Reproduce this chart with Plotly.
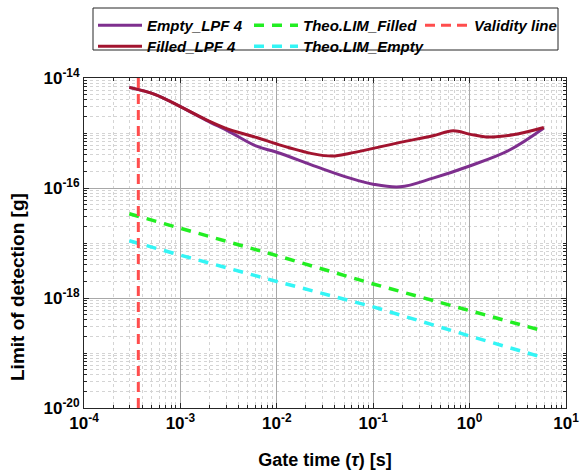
import plotly.graph_objects as go

# ---- data ----
tau_empty = [2.95e-4, 5.5e-4, 1e-3, 1.86e-3, 3.24e-3, 6.17e-3, 1e-2, 2.57e-2, 5.75e-2,
             0.1, 0.19, 0.417, 1.0, 2.6, 5.89]
lod_empty = [6.76e-15, 5.0e-15, 3.02e-15, 1.7e-15, 1.05e-15, 5.75e-16, 4.47e-16, 2.45e-16,
             1.51e-16, 1.17e-16, 1.05e-16, 1.51e-16, 2.51e-16, 4.9e-16, 1.23e-15]

tau_filled = [2.95e-4, 5.5e-4, 1e-3, 1.86e-3, 3.24e-3, 6.17e-3, 1e-2, 2.4e-2, 3.8e-2,
              5.75e-2, 0.1, 0.19, 0.417, 0.676, 1.0, 1.48, 2.82, 5.89]
lod_filled = [6.76e-15, 5.0e-15, 3.02e-15, 1.74e-15, 1.15e-15, 8.3e-16, 6.3e-16, 4.17e-16,
              3.8e-16, 4.27e-16, 5.25e-16, 6.76e-16, 8.9e-16, 1.1e-15, 9.55e-16, 8.5e-16,
              9.3e-16, 1.26e-15]

tau_theo = [2.95e-4, 1e-3, 1e-2, 1e-1, 1.0, 5.89]
lod_theo_filled = [3.4e-17, 1.85e-17, 5.9e-18, 1.8e-18, 6.0e-19, 2.5e-19]
lod_theo_empty = [1.1e-17, 6.0e-18, 2.0e-18, 6.9e-19, 2.04e-19, 8.2e-20]

validity_tau = [3.66e-4, 3.66e-4]
validity_lod = [1e-20, 1e-14]

x_tickvals = [1e-4, 1e-3, 1e-2, 1e-1, 1e0, 1e1]
x_ticktext = ["10<sup>-4</sup>", "10<sup>-3</sup>", "10<sup>-2</sup>", "10<sup>-1</sup>",
              "10<sup>0</sup>", "10<sup>1</sup>"]
y_tickvals = [1e-20, 1e-18, 1e-16, 1e-14]
y_ticktext = ["10<sup>-20</sup>", "10<sup>-18</sup>", "10<sup>-16</sup>", "10<sup>-14</sup>"]

FONT = "Liberation Sans, Arial, sans-serif"
W, H = 581, 474
L, R, T, B = 84, 15, 78, 66
PW = W - L - R
PH = H - T - B

fig = go.Figure()
fig.add_trace(go.Scatter(x=tau_empty, y=lod_empty, mode="lines", name="Empty_LPF 4",
                         line=dict(color="#7E2F8E", width=3, shape="spline"), legend="legend"))
fig.add_trace(go.Scatter(x=tau_filled, y=lod_filled, mode="lines", name="Filled_LPF 4",
                         line=dict(color="#A2142F", width=3, shape="spline"), legend="legend2"))
fig.add_trace(go.Scatter(x=tau_theo, y=lod_theo_filled, mode="lines", name="Theo.LIM_Filled",
                         line=dict(color="#22EE22", width=3.5, dash="10px,8px"), legend="legend3"))
fig.add_trace(go.Scatter(x=tau_theo, y=lod_theo_empty, mode="lines", name="Theo.LIM_Empty",
                         line=dict(color="#33F5F5", width=3.5, dash="10px,8px"), legend="legend4"))
fig.add_trace(go.Scatter(x=validity_tau, y=validity_lod, mode="lines", name="Validity line",
                         line=dict(color="#FF4D4D", width=3, dash="10px,6px"), legend="legend5"))

legend_common = dict(orientation="v", yanchor="top", xanchor="left",
                     xref="paper", yref="container",
                     bgcolor="rgba(0,0,0,0)", borderwidth=0, itemwidth=44,
                     font=dict(family=FONT, size=15, color="black", weight="bold", style="italic"))

ROW1 = 1 - 9 / H
ROW2 = 1 - 30 / H

axis_common = dict(type="log", showline=True, linecolor="#262626", linewidth=1, mirror="ticks",
                   ticks="inside", ticklen=5, tickcolor="#262626", automargin=False,
                   showgrid=True, gridcolor="#a8a8a8", gridwidth=1,
                   tickfont=dict(family=FONT, size=17, color="black", weight="bold"),
                   zeroline=False,
                   minor=dict(ticks="inside", ticklen=3, tickcolor="#262626", showgrid=True,
                              gridcolor="#d4d4d4", griddash="dot", gridwidth=1, dtick="D1"))

fig.update_layout(
    width=W, height=H,
    margin=dict(l=L, r=R, t=T, b=B),
    paper_bgcolor="white", plot_bgcolor="white",
    font=dict(family=FONT, color="black"),
    showlegend=True,
    legend=dict(legend_common, x=(93 - L) / PW, y=ROW1),
    legend2=dict(legend_common, x=(93 - L) / PW, y=ROW2),
    legend3=dict(legend_common, x=(249 - L) / PW, y=ROW1),
    legend4=dict(legend_common, x=(249 - L) / PW, y=ROW2),
    legend5=dict(legend_common, x=(420 - L) / PW, y=ROW1),
    xaxis=dict(axis_common, range=[-4, 1], tickvals=x_tickvals, ticktext=x_ticktext,
               title=dict(text="Gate time (<i>τ</i>) [s]", standoff=20,
                          font=dict(family=FONT, size=18, color="black", weight="bold"))),
    yaxis=dict(axis_common, range=[-20, -14], tickvals=y_tickvals, ticktext=y_ticktext),
    annotations=[dict(text="Limit of detection [g]", textangle=-90, showarrow=False,
                      xref="paper", yref="paper", x=(17 - L) / PW, y=(H - B - 287) / PH,
                      xanchor="center", yanchor="middle",
                      font=dict(family=FONT, size=19, color="black", weight="bold"))],
    shapes=[dict(type="rect", xref="paper", yref="paper",
                 x0=(93 - L) / PW, x1=(558 - L) / PW,
                 y0=(H - B - 50) / PH, y1=(H - B - 8) / PH,
                 line=dict(color="#262626", width=1), fillcolor="rgba(0,0,0,0)", layer="above")],
)

fig.write_html("out.html", config={"displayModeBar": False},
               post_script="document.body.style.margin='0px';")
